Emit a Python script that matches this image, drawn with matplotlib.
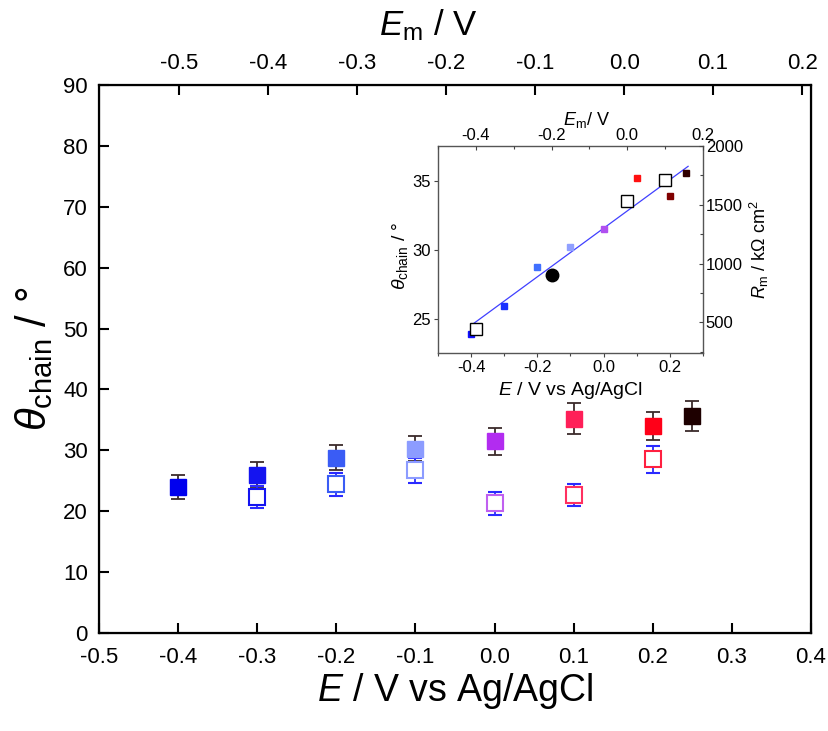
import numpy as np
import matplotlib
matplotlib.use('Agg')
import matplotlib.pyplot as plt
from matplotlib.ticker import MultipleLocator

plt.rcParams['font.family'] = ['Liberation Sans', 'DejaVu Sans']
plt.rcParams['mathtext.fontset'] = 'custom'
plt.rcParams['mathtext.rm'] = 'Liberation Sans'
plt.rcParams['mathtext.it'] = 'Liberation Sans:italic'

# main panel data
E_filled = [-0.4, -0.3, -0.2, -0.1, 0.0, 0.1, 0.2, 0.25]
theta_filled = [24.0, 26.0, 28.8, 30.3, 31.5, 35.2, 34.0, 35.6]
err_filled = [1.95, 2.1, 2.0, 2.1, 2.2, 2.5, 2.35, 2.45]
col_filled = ['#0000ee', '#1414f0', '#3a5cf5', '#8c9cff', '#b22cf0',
              '#ff1f58', '#ff0018', '#1e0000']

E_open = [-0.3, -0.2, -0.1, 0.0, 0.1, 0.2]
theta_open = [22.3, 24.4, 26.7, 21.3, 22.6, 28.5]
err_open = [1.8, 1.9, 2.0, 1.85, 1.8, 2.25]
col_open = ['#1414f0', '#3a5cf5', '#8c9cff', '#c060f0', '#ff3060', '#ff2040']

# inset data
E_inset = [-0.4, -0.3, -0.2, -0.1, 0.0, 0.1, 0.2, 0.25]
theta_inset = [23.94, 26.0, 28.75, 30.24, 31.56, 35.2, 33.94, 35.6]
col_inset = ['#1010ff', '#1a30ff', '#4070ff', '#90a0ff', '#b050f0',
             '#ff1010', '#800000', '#300000']
Em_open = [-0.4, 0.0, 0.1]
Rm_open = [440, 1530, 1715]
Em_circle = [-0.2]
Rm_circle = [905]
E_fit = [-0.4, 0.255]
theta_fit = [24.57, 36.06]

W, H = 829, 731
fig = plt.figure(figsize=(W / 100, H / 100), dpi=100)


def rect(x0, y0, x1, y1):
    return [x0 / W, 1 - y1 / H, (x1 - x0) / W, (y1 - y0) / H]


fmt1 = plt.FuncFormatter(lambda v, p: '%.1f' % v)

ax = fig.add_axes(rect(99, 85, 811, 633))
for i in range(len(E_filled)):
    ax.errorbar(E_filled[i], theta_filled[i], yerr=err_filled[i], fmt='s',
                ms=11.5, mfc=col_filled[i], mec=col_filled[i],
                ecolor='#3b2b2b', elinewidth=1.3, capsize=5, capthick=1.3,
                zorder=3)
for i in range(len(E_open)):
    ax.errorbar(E_open[i], theta_open[i], yerr=err_open[i], fmt='s',
                ms=11, mfc='white', mec=col_open[i], mew=1.5,
                ecolor='#2a2aff', elinewidth=1.3, capsize=5, capthick=1.3,
                zorder=3)

ax.set_xlim(-0.5, 0.4)
ax.set_ylim(0, 90)
ax.xaxis.set_major_locator(MultipleLocator(0.1))
ax.yaxis.set_major_locator(MultipleLocator(10))
ax.xaxis.set_major_formatter(fmt1)
ax.tick_params(direction='in', length=7, width=1.5, labelsize=16,
               top=False, right=False, pad=8)
ax.tick_params(axis='x', pad=10)
for s in ax.spines.values():
    s.set_linewidth(1.6)
ax.set_xlabel(r'$E$ / V vs Ag/AgCl', fontsize=27)
ax.xaxis.set_label_coords(0.5, -0.07)
ax.set_ylabel(r'$\theta_{\rm chain}$ / °', fontsize=30)
ax.yaxis.set_label_coords(-0.062, 0.5)

# top axis (membrane potential)
axt = ax.twiny()
axt.set_xlim(-0.590, 0.210)
axt.xaxis.set_major_locator(MultipleLocator(0.1))
axt.xaxis.set_major_formatter(fmt1)
axt.tick_params(direction='in', length=7, width=1.5, labelsize=16, pad=8)
axt.set_xlabel(r'$E_{\rm m}$ / V', fontsize=25)
axt.xaxis.set_label_coords(0.462, 1.09)

# inset
ins = fig.add_axes(rect(438, 146, 703, 353))
ins.plot(E_fit, theta_fit, color='#4040ff', lw=0.9, zorder=2)
for i in range(len(E_inset)):
    ins.plot(E_inset[i], theta_inset[i], 's', ms=5, color=col_inset[i],
             zorder=3)
ins.set_xlim(-0.5, 0.3)
ins.set_ylim(22.57, 37.53)
ins.xaxis.set_major_locator(MultipleLocator(0.2))
ins.xaxis.set_minor_locator(MultipleLocator(0.1))
ins.yaxis.set_major_locator(MultipleLocator(5))
ins.xaxis.set_major_formatter(fmt1)
ins.tick_params(which='both', direction='out', length=3, width=0.8,
                labelsize=12, color='#444444', pad=2)
ins.tick_params(which='minor', length=2)
for s in ins.spines.values():
    s.set_color('#555555')
    s.set_linewidth(1.0)
ins.set_xlabel(r'$E$ / V vs Ag/AgCl', fontsize=14)
ins.xaxis.set_label_coords(0.5, -0.13)
ins.set_ylabel(r'$\theta_{\rm chain}$ / °', fontsize=14)
ins.yaxis.set_label_coords(-0.104, 0.47)

ins2 = fig.add_axes(rect(438, 146, 703, 353), frameon=False)
ins2.plot(Em_open, Rm_open, 's', ms=8, mfc='white', mec='black', mew=1.0,
          zorder=4)
ins2.plot(Em_circle, Rm_circle, 'o', ms=9, color='black', zorder=4)
ins2.set_xlim(-0.5, 0.2)
ins2.set_ylim(240, 2000)
ins2.xaxis.tick_top()
ins2.yaxis.tick_right()
ins2.xaxis.set_label_position('top')
ins2.yaxis.set_label_position('right')
ins2.xaxis.set_major_locator(MultipleLocator(0.2))
ins2.xaxis.set_minor_locator(MultipleLocator(0.1))
ins2.yaxis.set_major_locator(MultipleLocator(500))
ins2.yaxis.set_minor_locator(MultipleLocator(250))
ins2.xaxis.set_major_formatter(fmt1)
ins2.tick_params(which='both', direction='in', length=3, width=0.8,
                 labelsize=12, color='#444444', pad=2)
ins2.tick_params(which='minor', length=2)
ins2.set_xlabel(r'$E_{\rm m}$/ V', fontsize=13)
ins2.xaxis.set_label_coords(0.56, 1.10)
ins2.set_ylabel(r'$R_{\rm m}$ / kΩ cm$^2$', fontsize=13)
ins2.yaxis.set_label_coords(1.17, 0.5)

fig.savefig('out.png', dpi=100)
